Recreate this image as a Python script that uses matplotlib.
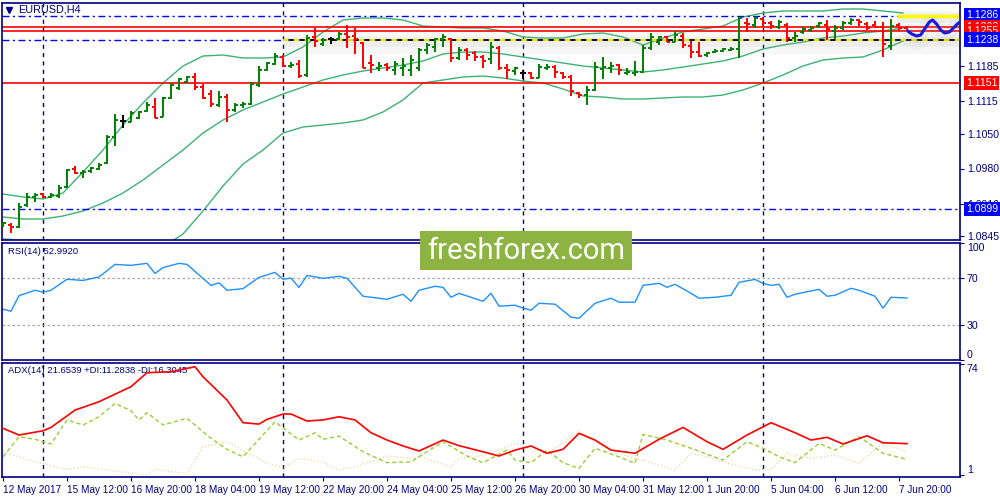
import numpy as np
import matplotlib
matplotlib.use('Agg')
import matplotlib.pyplot as plt
import matplotlib.patheffects as pe
from matplotlib.patches import Rectangle
from matplotlib.transforms import blended_transform_factory

# EURUSD H4, 114 bars
opens = [1.0867, 1.0867, 1.0863, 1.0907, 1.0923, 1.0929, 1.0923, 1.0925, 1.0943, 1.0979,
         1.0971, 1.0975, 1.0979, 1.0991, 1.1043, 1.1075, 1.1073, 1.1081, 1.1095, 1.1103,
         1.1083, 1.1121, 1.1141, 1.1153, 1.1163, 1.1143, 1.1129, 1.1107, 1.1123, 1.1097,
         1.1107, 1.1109, 1.1147, 1.1177, 1.1189, 1.1203, 1.1185, 1.1189, 1.1167, 1.1243,
         1.1229, 1.1239, 1.1239, 1.1249, 1.1245, 1.1231, 1.1191, 1.1181, 1.1187, 1.1177,
         1.1181, 1.1177, 1.1181, 1.1217, 1.1223, 1.1239, 1.1239, 1.1201, 1.1217, 1.1211,
         1.1203, 1.1199, 1.1221, 1.1181, 1.1175, 1.1171, 1.1171, 1.1161, 1.1181, 1.1183,
         1.1171, 1.1163, 1.1131, 1.1127, 1.1137, 1.1179, 1.1181, 1.1187, 1.1171, 1.1171,
         1.1173, 1.1221, 1.1233, 1.1243, 1.1233, 1.1245, 1.1225, 1.1213, 1.1207, 1.1213,
         1.1215, 1.1217, 1.1219, 1.1271, 1.1267, 1.1279, 1.1271, 1.1263, 1.1267, 1.1241,
         1.1253, 1.1257, 1.1265, 1.1267, 1.1255, 1.1261, 1.1271, 1.1277, 1.1269, 1.1267,
         1.1263, 1.1225, 1.1267, 1.1261]
highs = [1.0873, 1.0871, 1.0911, 1.0931, 1.0931, 1.0931, 1.0931, 1.0947, 1.0979, 1.0985,
         1.0977, 1.0983, 1.0991, 1.1047, 1.1089, 1.1087, 1.1095, 1.1095, 1.1113, 1.1121,
         1.1123, 1.1151, 1.1161, 1.1165, 1.1171, 1.1149, 1.1137, 1.1135, 1.1129, 1.1111,
         1.1113, 1.1153, 1.1185, 1.1193, 1.1211, 1.1207, 1.1193, 1.1197, 1.1247, 1.1261,
         1.1241, 1.1243, 1.1253, 1.1267, 1.1261, 1.1233, 1.1207, 1.1193, 1.1191, 1.1195,
         1.1201, 1.1207, 1.1221, 1.1231, 1.1241, 1.1249, 1.1241, 1.1223, 1.1221, 1.1215,
         1.1207, 1.1233, 1.1225, 1.1189, 1.1183, 1.1177, 1.1173, 1.1189, 1.1189, 1.1187,
         1.1173, 1.1167, 1.1133, 1.1145, 1.1193, 1.1203, 1.1193, 1.1189, 1.1181, 1.1195,
         1.1227, 1.1251, 1.1245, 1.1245, 1.1255, 1.1251, 1.1235, 1.1233, 1.1213, 1.1219,
         1.1221, 1.1223, 1.1283, 1.1281, 1.1283, 1.1283, 1.1275, 1.1277, 1.1271, 1.1253,
         1.1263, 1.1265, 1.1273, 1.1277, 1.1267, 1.1275, 1.1281, 1.1279, 1.1273, 1.1275,
         1.1273, 1.1279, 1.1271, 1.1265]
lows = [1.0863, 1.0851, 1.0861, 1.0903, 1.0913, 1.0921, 1.0921, 1.0921, 1.0941, 1.0969,
        1.0961, 1.0971, 1.0977, 1.0989, 1.1025, 1.1061, 1.1073, 1.1079, 1.1093, 1.1081,
        1.1083, 1.1119, 1.1137, 1.1151, 1.1137, 1.1119, 1.1103, 1.1103, 1.1073, 1.1093,
        1.1101, 1.1107, 1.1143, 1.1175, 1.1187, 1.1183, 1.1181, 1.1161, 1.1163, 1.1223,
        1.1225, 1.1229, 1.1237, 1.1221, 1.1209, 1.1181, 1.1171, 1.1175, 1.1175, 1.1167,
        1.1165, 1.1165, 1.1175, 1.1209, 1.1213, 1.1223, 1.1193, 1.1197, 1.1197, 1.1195,
        1.1181, 1.1189, 1.1177, 1.1159, 1.1167, 1.1159, 1.1159, 1.1161, 1.1177, 1.1161,
        1.1159, 1.1125, 1.1121, 1.1107, 1.1135, 1.1159, 1.1171, 1.1167, 1.1167, 1.1165,
        1.1171, 1.1217, 1.1227, 1.1233, 1.1233, 1.1221, 1.1201, 1.1203, 1.1203, 1.1211,
        1.1213, 1.1215, 1.1201, 1.1253, 1.1261, 1.1263, 1.1259, 1.1259, 1.1233, 1.1233,
        1.1249, 1.1253, 1.1261, 1.1237, 1.1239, 1.1257, 1.1267, 1.1265, 1.1257, 1.1261,
        1.1203, 1.1217, 1.1255, 1.1255]
closes = [1.0871, 1.0863, 1.0903, 1.0923, 1.0927, 1.0923, 1.0927, 1.0941, 1.0977, 1.0971,
          1.0973, 1.0981, 1.0987, 1.1043, 1.1077, 1.1075, 1.1091, 1.1093, 1.1107, 1.1081,
          1.1121, 1.1147, 1.1159, 1.1163, 1.1143, 1.1121, 1.1109, 1.1123, 1.1097, 1.1107,
          1.1109, 1.1149, 1.1177, 1.1191, 1.1205, 1.1185, 1.1187, 1.1165, 1.1241, 1.1235,
          1.1237, 1.1239, 1.1249, 1.1243, 1.1239, 1.1181, 1.1187, 1.1185, 1.1181, 1.1189,
          1.1185, 1.1197, 1.1217, 1.1227, 1.1239, 1.1243, 1.1201, 1.1217, 1.1207, 1.1203,
          1.1195, 1.1223, 1.1181, 1.1177, 1.1181, 1.1171, 1.1161, 1.1183, 1.1183, 1.1173,
          1.1163, 1.1135, 1.1127, 1.1137, 1.1183, 1.1183, 1.1185, 1.1177, 1.1173, 1.1173,
          1.1221, 1.1243, 1.1243, 1.1233, 1.1247, 1.1227, 1.1213, 1.1205, 1.1211, 1.1215,
          1.1219, 1.1219, 1.1281, 1.1269, 1.1281, 1.1271, 1.1265, 1.1273, 1.1241, 1.1245,
          1.1259, 1.1261, 1.1271, 1.1259, 1.1261, 1.1271, 1.1277, 1.1273, 1.1261, 1.1263,
          1.1229, 1.1265, 1.1261, 1.1255]

# Bollinger bands (20, 2) sampled every 2.5 bars
band_idx = np.arange(46) * 2.5
bb_upper = [1.0929, 1.0923, 1.0919, 1.0931, 1.0973, 1.1017, 1.1067, 1.1111, 1.1151, 1.1185,
            1.1205, 1.1207, 1.1201, 1.1201, 1.1203, 1.1223, 1.1253, 1.1277, 1.1281, 1.1281,
            1.1277, 1.1265, 1.1263, 1.1261, 1.1261, 1.1255, 1.1243, 1.1241, 1.1241, 1.1249,
            1.1251, 1.1243, 1.1227, 1.1241, 1.1253, 1.1259, 1.1265, 1.1283, 1.1291, 1.1295,
            1.1295, 1.1295, 1.1299, 1.1299, 1.1295, 1.1291]
bb_middle = [1.0883, 1.0879, 1.0879, 1.0885, 1.0895, 1.0911, 1.0931, 1.0957, 1.0987, 1.1017,
             1.1051, 1.1077, 1.1097, 1.1113, 1.1129, 1.1143, 1.1157, 1.1167, 1.1175, 1.1181,
             1.1187, 1.1195, 1.1209, 1.1213, 1.1213, 1.1209, 1.1203, 1.1197, 1.1191, 1.1185,
             1.1181, 1.1177, 1.1173, 1.1177, 1.1183, 1.1189, 1.1195, 1.1205, 1.1219, 1.1227,
             1.1233, 1.1241, 1.1245, 1.1251, 1.1255, 1.1261]
bb_lower = [1.0839, 1.0837, 1.0837, 1.0835, 1.0817, 1.0805, 1.0795, 1.0803, 1.0823, 1.0849,
            1.0895, 1.0945, 1.0989, 1.1017, 1.1051, 1.1063, 1.1067, 1.1071, 1.1077, 1.1093,
            1.1117, 1.1151, 1.1157, 1.1163, 1.1165, 1.1161, 1.1155, 1.1151, 1.1139, 1.1125,
            1.1123, 1.1119, 1.1119, 1.1121, 1.1123, 1.1123, 1.1127, 1.1137, 1.1151, 1.1167,
            1.1185, 1.1197, 1.1201, 1.1203, 1.1217, 1.1235]

# RSI(14)
rsi_idx = [0, 1, 2, 4, 5, 6, 8, 10, 12, 14, 16, 18, 19, 20, 22, 23, 26, 27, 28, 30,
           32, 34, 35, 36, 37, 38, 40, 42, 43, 45, 47, 48, 50, 51, 52, 54, 55, 56, 57, 60,
           61, 62, 64, 65, 66, 67, 69, 71, 72, 74, 76, 77, 79, 80, 82, 83, 84, 86, 87, 89,
           91, 92, 94, 95, 96, 97, 98, 99, 102, 103, 104, 106, 107, 109, 110, 111, 113]
rsi_val = [43.4, 41.7, 55.0, 59.6, 58.0, 59.6, 69.0, 68.0, 71.0, 81.7, 80.9, 82.6, 74.0, 79.0,
           82.6, 81.7, 63.8, 66.0, 59.6, 61.0, 70.6, 74.9, 69.0, 70.0, 62.0, 72.3, 69.8, 71.5,
           69.8, 54.5, 52.8, 51.9, 56.2, 50.2, 59.6, 63.0, 62.1, 53.6, 57.0, 50.2, 57.0, 46.0,
           46.8, 44.3, 42.6, 48.5, 47.7, 36.6, 35.7, 48.5, 52.8, 49.4, 49.4, 63.8, 65.5, 62.1,
           64.7, 57.0, 52.8, 53.6, 55.3, 66.4, 68.9, 65.5, 63.8, 64.7, 53.6, 56.2, 60.4, 54.5,
           55.3, 61.3, 59.6, 54.5, 44.3, 53.6, 52.99]

# ADX(14), +DI, -DI
adx_idx = [0, 2, 5, 6, 9, 12, 16, 18, 21, 24, 25, 28, 30, 32, 33, 35, 36, 38, 40, 42,
           44, 46, 48, 50, 52, 55, 57, 60, 62, 64, 66, 68, 70, 72, 74, 76, 79, 82, 85, 88,
           90, 93, 96, 99, 101, 103, 105, 108, 110, 113]
adx_val = [31.7, 27.3, 30.1, 32.3, 43.7, 49.2, 59.1, 68.3, 68.9, 72.2, 65.6, 50.3, 35.4, 34.5,
           37.6, 41.1, 41.1, 36.5, 37.2, 39.3, 37.2, 28.8, 24.0, 20.1, 16.8, 24.0, 20.3, 16.3,
           13.5, 17.4, 20.1, 15.3, 17.9, 28.4, 24.0, 17.4, 15.3, 24.5, 32.3, 22.9, 17.9, 27.3,
           35.4, 28.8, 24.0, 25.8, 21.4, 26.8, 22.2, 21.65]
pdi_idx = [0, 1, 2, 4, 6, 8, 10, 12, 14, 16, 17, 18, 20, 23, 26, 28, 30, 34, 37, 39,
           40, 42, 45, 48, 51, 55, 58, 60, 63, 64, 66, 68, 70, 72, 74, 77, 79, 80, 83, 86,
           90, 93, 95, 97, 99, 102, 104, 107, 110, 113]
pdi_val = [13.0, 19.6, 26.2, 24.5, 21.4, 37.2, 33.9, 39.3, 48.1, 43.3, 37.2, 42.0, 33.9, 38.3,
           25.1, 17.9, 13.0, 36.0, 24.0, 28.8, 24.5, 26.6, 16.3, 9.1, 9.7, 22.9, 13.5, 9.1,
           17.4, 10.8, 9.1, 17.4, 9.1, 5.4, 18.6, 13.0, 8.7, 27.7, 24.0, 18.6, 10.8, 22.9,
           18.6, 13.0, 9.1, 21.8, 17.4, 26.2, 15.3, 11.28]
mdi_idx = [0, 4, 8, 10, 13, 18, 19, 23, 25, 28, 33, 35, 37, 40, 42, 44, 48, 51, 52, 56,
           57, 59, 61, 64, 66, 68, 70, 72, 75, 78, 81, 84, 86, 88, 91, 94, 96, 98, 101, 104,
           107, 110, 113]
mdi_val = [16.3, 9.7, 4.7, 6.4, 4.3, 1.0, 4.7, 2.1, 19.6, 22.9, 8.7, 6.0, 12.0, 9.7, 4.3,
           6.4, 13.5, 12.0, 13.0, 6.4, 12.0, 13.0, 15.3, 21.8, 17.9, 15.3, 21.8, 29.7, 19.6,
           13.5, 9.1, 4.3, 15.3, 13.0, 8.2, 4.3, 4.3, 15.3, 12.0, 14.1, 8.7, 22.2, 16.3]

# hand-drawn forecast path
fc_idx = [113.1, 113.6, 114.2, 114.7, 115.2, 115.8, 116.2, 116.7, 117.2, 117.7, 118.3, 118.8, 119.3, 119.8]
fc_price = [1.1255, 1.1249, 1.1245, 1.1247, 1.1259, 1.1273, 1.1277, 1.1269, 1.1257, 1.1251,
            1.1253, 1.1261, 1.1269, 1.1275]

date_idx = list(range(0, 113, 8))
date_labels = ['12 May 2017', '15 May 12:00', '16 May 20:00', '18 May 04:00', '19 May 12:00',
               '22 May 20:00', '24 May 04:00', '25 May 12:00', '26 May 20:00', '30 May 04:00',
               '31 May 12:00', '1 Jun 20:00', '5 Jun 04:00', '6 Jun 12:00', '7 Jun 20:00']
week_sep = [5, 35, 65, 95]
price_ticks = [1.1185, 1.1115, 1.1050, 1.0980, 1.0910, 1.0845]

NAVY = '#000080'
BLUE = '#0000ff'
RED = '#ff0000'
GREEN = '#008000'
DASHDOT = (0, (5, 2.5, 1.5, 2.5))

plt.rcParams['font.family'] = ['Liberation Sans', 'DejaVu Sans']

fig = plt.figure(figsize=(10, 5), dpi=100)
W, H = 1000, 500


def rect(x0, y0, x1, y1):
    return [x0 / W, 1 - y1 / H, (x1 - x0) / W, (y1 - y0) / H]


ax = fig.add_axes(rect(2, 3, 960, 240))
ax_rsi = fig.add_axes(rect(2, 243, 960, 360))
ax_adx = fig.add_axes(rect(2, 363, 960, 477))

XMIN, XMAX = -0.125, 119.625
for a in (ax, ax_rsi, ax_adx):
    a.set_xlim(XMIN, XMAX)
    for s in a.spines.values():
        s.set_color(NAVY)
        s.set_linewidth(1.2)
    for ix in week_sep:
        a.axvline(ix, color=NAVY, lw=1, ls=(0, (3, 3)), zorder=1)
    a.yaxis.tick_right()
    a.tick_params(axis='y', colors=NAVY, labelsize=7.6, length=3, pad=2, width=0.8)

# ---- main price panel
ax.set_ylim(1.0837, 1.1311)
ax.set_xticks([])

ax.plot(band_idx, bb_upper, color='#3cb371', lw=1, zorder=2)
ax.plot(band_idx, bb_middle, color='#3cb371', lw=1, zorder=2)
ax.plot(band_idx, bb_lower, color='#3cb371', lw=1, zorder=2)

ax.axhline(1.1286, color=BLUE, lw=1, ls=DASHDOT, zorder=2)
ax.axhline(1.0899, color=BLUE, lw=1, ls=DASHDOT, zorder=2)
ax.hlines(1.1238, XMIN, 35, color=BLUE, lw=1, ls=DASHDOT, zorder=2)
for lvl in (1.1263, 1.1255, 1.1151):
    ax.axhline(lvl, color=RED, lw=1.2, zorder=2)

shadow = [pe.SimpleLineShadow(offset=(0, -3), shadow_color='0.6', alpha=0.07, linewidth=14),
          pe.SimpleLineShadow(offset=(0, -2), shadow_color='0.6', alpha=0.09, linewidth=7),
          pe.Normal()]
ax.hlines(1.1238, 35, XMAX, color='black', lw=1.3, zorder=2, path_effects=shadow)
ax.hlines(1.1238, 35, XMAX, color='#ffff00', lw=1.3, ls=(0, (3, 3)), zorder=2)
ax.hlines(1.1286, 111.7, XMAX, color='#ffff00', lw=2.5, zorder=2, path_effects=shadow)

idx = np.arange(len(closes))
cols = [GREEN if c > o else RED if c < o else 'black' for o, c in zip(opens, closes)]
ax.vlines(idx, lows, highs, colors=cols, lw=1.4, zorder=3)
ax.hlines(opens, idx - 0.38, idx, colors=cols, lw=1.4, zorder=3)
ax.hlines(closes, idx, idx + 0.38, colors=cols, lw=1.4, zorder=3)

ax.plot(fc_idx, fc_price, color='#1a1adc', lw=2.2, zorder=4, solid_capstyle='round',
        path_effects=shadow)
ax.annotate('', xy=(fc_idx[-1], fc_price[-1]), xytext=(fc_idx[-3], fc_price[-3]),
            arrowprops=dict(arrowstyle='->,head_length=0.5,head_width=0.3', color='#1a1adc', lw=2),
            zorder=4)

ax.set_yticks(price_ticks)
ax.set_yticklabels(['%.4f' % p for p in price_ticks])

ptrans = blended_transform_factory(ax.transAxes, ax.transData)
for lvl, fc in [(1.1286, BLUE), (1.1263, RED), (1.1255, RED), (1.1238, BLUE),
                (1.1151, RED), (1.0899, BLUE)]:
    ax.text(1.006, lvl, '%.4f' % lvl, transform=ptrans, ha='left', va='center', fontsize=7.6,
            color='white', clip_on=False, zorder=10,
            bbox=dict(boxstyle='square,pad=0.2', fc=fc, ec='none'))

ax.plot([0.007], [0.972], marker='v', color=NAVY, ms=4.5, transform=ax.transAxes, clip_on=False)
ax.text(0.017, 0.972, 'EURUSD,H4', transform=ax.transAxes, fontsize=7.8, color=NAVY,
        va='center', ha='left')

# ---- RSI panel
ax_rsi.set_ylim(0, 100)
ax_rsi.set_xticks([])
ax_rsi.axhline(70, color='#a8a8a8', lw=0.9, ls=(0, (2, 2)))
ax_rsi.axhline(30, color='#a8a8a8', lw=0.9, ls=(0, (2, 2)))
ax_rsi.plot(rsi_idx, rsi_val, color='#1e90ff', lw=1)
ax_rsi.set_yticks([0, 30, 70, 100])
ax_rsi.set_yticklabels(['0', '30', '70', '100'])
rl = ax_rsi.get_yticklabels()
rl[0].set_va('bottom')
rl[-1].set_va('top')
ax_rsi.text(0.006, 0.93, 'RSI(14) 52.9920', transform=ax_rsi.transAxes, fontsize=6.8,
            color=NAVY, va='center', ha='left')

# ---- ADX panel
ax_adx.set_ylim(-0.3, 74.66)
ax_adx.plot(mdi_idx, mdi_val, color='#f5d9a8', lw=1, ls=(0, (1, 1.5)))
ax_adx.plot(pdi_idx, pdi_val, color='#9acd32', lw=1, ls=(0, (3, 2)))
ax_adx.plot(adx_idx, adx_val, color=RED, lw=1.2, zorder=5)
ax_adx.set_yticks([1, 74])
ax_adx.set_yticklabels(['1', '74'])
al = ax_adx.get_yticklabels()
al[0].set_va('bottom')
al[1].set_va('top')
ax_adx.text(0.006, 0.93, 'ADX(14) 21.6539 +DI:11.2838 -DI:16.3045', transform=ax_adx.transAxes,
            fontsize=6.8, color=NAVY, va='center', ha='left', zorder=1)

ax_adx.set_xticks(date_idx)
ax_adx.set_xticklabels(date_labels)
ax_adx.tick_params(axis='x', colors=NAVY, labelsize=7.2, length=3, pad=3, width=0.8)
for lbl in ax_adx.get_xticklabels():
    lbl.set_ha('left')

# watermark
fig.patches.append(Rectangle((420 / W, 1 - 270 / H), 212 / W, 39 / H, transform=fig.transFigure,
                             fc='#8db443', ec='none', zorder=20))
fig.text(526 / W, 1 - 251 / H, 'freshforex.com', ha='center', va='center', fontsize=21,
         color='white', family=['Roboto', 'DejaVu Sans'], zorder=21)

fig.savefig('out.png', dpi=100, facecolor='white')
